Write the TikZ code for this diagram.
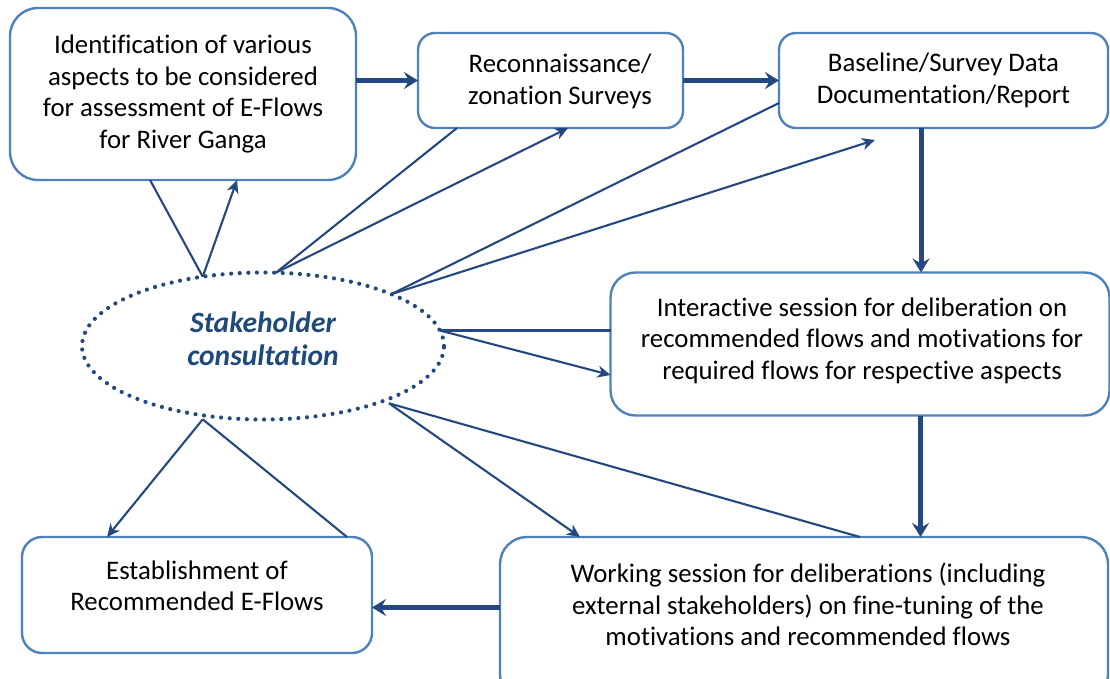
\documentclass[tikz,border=0pt]{standalone}
\usepackage{fontspec}
\setmainfont{Carlito}[Ligatures=NoCommon]
\usetikzlibrary{arrows.meta,calc,shapes.geometric}
\definecolor{boxblue}{HTML}{4F81BD}
\definecolor{lineblue}{HTML}{24487F}
\definecolor{textblue}{HTML}{1F497D}
\begin{document}
\begin{tikzpicture}[x=1pt,y=-1pt,
  box/.style={draw=boxblue,line width=2.4pt,fill=white,inner sep=0pt,outer sep=0pt},
  txt/.style={align=center,inner sep=0pt,font=\fontsize{26.8}{31.5}\selectfont},
  thin/.style={draw=lineblue,line width=2.1pt},
  thinarrow/.style={thin,-{Stealth[length=13pt,width=12pt,inset=4pt]}},
  thick/.style={draw=lineblue,line width=5pt,-{Stealth[length=14pt,width=17pt,inset=5pt]}}]
\useasboundingbox (0,0) rectangle (1110,679);
% boxes
\node[box,minimum width=346pt,minimum height=172pt,rounded corners=28pt] (b1) at (183,94) {};
\node[txt] (t1) at (b1) {Identification of various\\aspects to be considered\\for assessment of E-Flows\\for River Ganga};
\node[box,minimum width=265pt,minimum height=95pt,rounded corners=17pt] (b2) at (550.5,80.5) {};
\node[txt] (t2) at (560,81.5) {Reconnaissance/\\zonation Surveys};
\node[box,minimum width=329pt,minimum height=95pt,rounded corners=17pt] (b3) at (943.5,80.5) {};
\node[txt] (t3) at (b3) {Baseline/Survey Data\\Documentation/Report};
\node[box,minimum width=499pt,minimum height=143pt,rounded corners=25pt] (b4) at (860,344) {};
\node[txt] (t4) at (862,340.5) {Interactive session for deliberation on\\recommended flows and motivations for\\required flows for respective aspects};
\node[box,minimum width=608pt,minimum height=165pt,rounded corners=27pt] (b5) at (804,619.5) {};
\node[txt] (t5) at (808,604.5) {Working session for deliberations (including\\external stakeholders) on fine-tuning of the\\motivations and recommended flows};
\node[box,minimum width=350pt,minimum height=116pt,rounded corners=20pt] (b6) at (197,595) {};
\node[txt] (t6) at (197,586) {Establishment of\\Recommended E-Flows};
% ellipse
\node[ellipse,draw=lineblue,line width=4.2pt,dash pattern=on 0pt off 8.6pt,line cap=round,
  minimum width=362pt,minimum height=147pt,inner sep=0pt,outer sep=0pt] (sc) at (263,346) {};
\node[align=center,inner sep=0pt,text=textblue,font=\fontsize{29.5}{33}\selectfont\bfseries\itshape] (sct) at (263,339) {Stakeholder\\consultation};
% thick flow arrows
\draw[thick] (b2.west -| b1.east) -- (b2.west);
\draw[thick] (b2.east) -- (b2.east -| b3.west);
\coordinate (c3) at ($(b3.south west)+(142,0)$);
\draw[thick] (c3) -- (c3 |- b4.north);
\coordinate (c4) at ($(b4.south west)+(310,0)$);
\draw[thick] (c4) -- (c4 |- b5.north);
\coordinate (c5) at ($(b5.west)+(0,-12)$);
\draw[thick] (c5) -- (c5 -| b6.east);
% stakeholder links
\coordinate (s1) at (sc.131);
\draw[thin] (s1) -- ($(b1.south west)+(140,0)$);
\draw[thinarrow] (s1) -- ($(b1.south west)+(227,0)$);
\coordinate (s2) at (sc.80.6);
\draw[thin] (s2) -- ($(b2.south west)+(39,0)$);
\draw[thinarrow] (s2) -- ($(b2.south west)+(150,0)$);
\coordinate (s3) at (sc.22.6);
\coordinate (e3) at ($(b3.south west)+(96,12)$);
\draw[thin] (s3) -- ($(b3.west)+(0,22.5)$);
\draw[thinarrow] (s3) -- (e3);
\coordinate (s4) at (sc.5.5);
\draw[thin] (s4) -- (s4 -| b4.west);
\draw[thinarrow] (s4) -- ($(b4.west)+(0,31)$);
\coordinate (s5) at ($(sc.-24)+(4,3)$);
\draw[thinarrow] (s5) -- ($(b5.north west)+(80,0)$);
\draw[thin] (s5) -- ($(b5.north west)+(360,0)$);
\coordinate (s6) at ($(sc.229)+(0,4)$);
\draw[thinarrow] (s6) -- ($(b6.north west)+(85,0)$);
\draw[thin] (s6) -- ($(b6.north west)+(325,0)$);
\end{tikzpicture}
\end{document}
